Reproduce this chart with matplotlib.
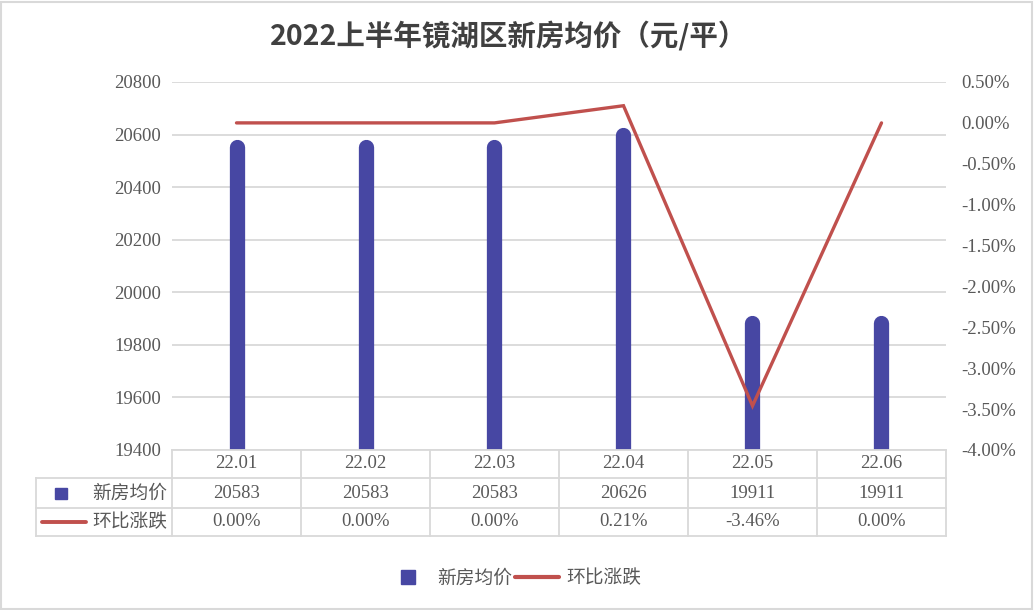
import matplotlib
matplotlib.use("Agg")
from matplotlib import pyplot as plt
from matplotlib.lines import Line2D
from matplotlib.patches import Rectangle
from matplotlib.transforms import offset_copy, blended_transform_factory

months = ["22.01", "22.02", "22.03", "22.04", "22.05", "22.06"]
prices = [20583, 20583, 20583, 20626, 19911, 19911]
changes = [0.00, 0.00, 0.00, 0.21, -3.46, 0.00]
left_ticks = [19400, 19600, 19800, 20000, 20200, 20400, 20600, 20800]
right_ticks = [-4.0, -3.5, -3.0, -2.5, -2.0, -1.5, -1.0, -0.5, 0.0, 0.5]

BAR = "#4747A3"
LINE = "#C0504D"
GRID = "#D9D9D9"
TXT = "#595959"
W, H = 1034, 610
FS = 13.5


def px(x, y):
    return x / W, 1 - y / H


def draw_graph():
    plt.rcParams["font.family"] = ["Liberation Serif", "Noto Sans CJK SC", "DejaVu Sans"]
    plt.rcParams["font.size"] = FS
    fig = plt.figure(figsize=(W / 100, H / 100), dpi=100)

    x0, y1 = px(172, 82)
    x1, y0 = px(946, 450)
    ax = fig.add_axes([x0, y0, x1 - x0, y1 - y0])
    ax2 = ax.twinx()

    xs = list(range(len(months)))
    lw = 11
    # rounded bars: thick lines with round cap, shifted so the cap top sits on the value
    trans = offset_copy(ax.transData, fig=fig, y=-lw / 2, units="points")
    for x, p in zip(xs, prices):
        ax.plot([x, x], [19000, p], color=BAR, lw=lw, solid_capstyle="round", transform=trans)

    ax.set_xlim(-0.5, len(months) - 0.5)
    ax.set_ylim(19400, 20800)
    ax.set_yticks(left_ticks)
    ax.set_xticks([])
    ax.yaxis.grid(True, color=GRID, lw=1.3)
    ax.set_axisbelow(True)
    ax.tick_params(axis="y", length=0, pad=8, labelcolor=TXT, labelsize=FS)

    ax2.plot(xs, changes, color=LINE, lw=2.4, solid_capstyle="round", solid_joinstyle="miter")
    ax2.set_ylim(-4.0, 0.5)
    ax2.set_yticks(right_ticks)
    ax2.set_yticklabels([f"{v:.2f}%" for v in right_ticks])
    ax2.tick_params(axis="y", length=0, pad=11, labelcolor=TXT, labelsize=FS)

    for a in (ax, ax2):
        for s in a.spines.values():
            s.set_visible(False)

    # data table under the plot
    def fy(y):
        return 1 - y / H

    rows = [450, 478, 508, 536]
    tkw = dict(transform=fig.transFigure, color=GRID, lw=1.3, clip_on=False)
    fig.add_artist(Line2D([x0, x1], [fy(rows[0])] * 2, **tkw))
    for r in rows[1:]:
        fig.add_artist(Line2D([36 / W, x1], [fy(r)] * 2, **tkw))
    fig.add_artist(Line2D([36 / W] * 2, [fy(rows[1]), fy(rows[3])], **tkw))
    bt = blended_transform_factory(ax.transData, fig.transFigure)
    for i in range(len(months) + 1):
        fig.add_artist(Line2D([i - 0.5] * 2, [fy(rows[0]), fy(rows[3])], transform=bt,
                              color=GRID, lw=1.3, clip_on=False))
    for i, m in enumerate(months):
        fig.text(i, fy(464), m, transform=bt, ha="center", va="center", color=TXT)
        fig.text(i, fy(493), f"{prices[i]}", transform=bt, ha="center", va="center", color=TXT)
        fig.text(i, fy(522), f"{changes[i]:.2f}%", transform=bt, ha="center", va="center", color=TXT)
    fig.text(167 / W, fy(493), "新房均价", ha="right", va="center", color=TXT,
             family=["Noto Sans CJK SC"])
    fig.text(167 / W, fy(522), "环比涨跌", ha="right", va="center", color=TXT,
             family=["Noto Sans CJK SC"])
    fig.add_artist(Rectangle(px(55, 499), 12 / W, 11 / H, transform=fig.transFigure,
                             color=BAR, clip_on=False))
    fig.add_artist(Line2D([42 / W, 86 / W], [fy(522)] * 2, transform=fig.transFigure,
                          color=LINE, lw=2.8, solid_capstyle="round"))

    fig.text(0.492, fy(36), "2022上半年镜湖区新房均价（元/平）", ha="center", va="center",
             fontsize=20.5, fontweight="bold", color="#404040", family=["Noto Sans CJK SC"])

    handles = [
        Line2D([], [], marker="s", ls="none", color=BAR, markersize=10),
        Line2D([], [], color=LINE, lw=3, solid_capstyle="round"),
    ]
    fig.legend(handles, ["新房均价", "环比涨跌"], loc="center", bbox_to_anchor=(0.497, fy(578)),
               ncol=2, frameon=False, prop={"family": ["Noto Sans CJK SC"], "size": FS},
               labelcolor=TXT, handlelength=2.35, columnspacing=0.16, handletextpad=0.37)

    fig.add_artist(Rectangle((0.001, 0.002), 0.997, 0.995, transform=fig.transFigure,
                             fill=False, edgecolor=GRID, lw=1.5))
    fig.savefig("out.png", dpi=100)


if __name__ == "__main__":
    draw_graph()
